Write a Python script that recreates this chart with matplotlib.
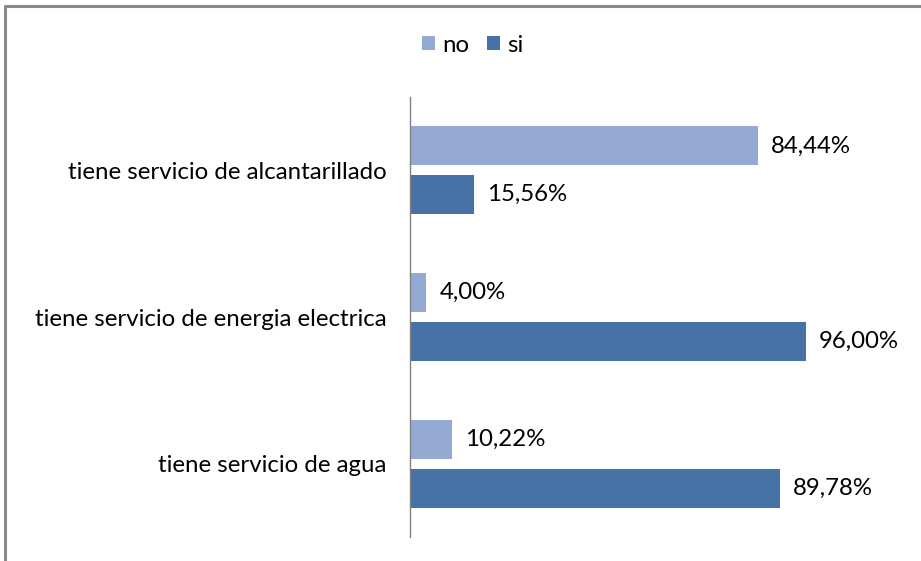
import matplotlib
matplotlib.use("Agg")
import matplotlib.pyplot as plt
from matplotlib.lines import Line2D
import numpy as np

categories = ["tiene servicio de alcantarillado", "tiene servicio de energia electrica", "tiene servicio de agua"]
no_vals = [84.44, 4.00, 10.22]
si_vals = [15.56, 96.00, 89.78]
series_names = ["no", "si"]
colors = ["#95AAD2", "#4672A8"]

plt.rcParams['font.family'] = ['Lato', 'DejaVu Sans']

W, H = 921, 561
fig = plt.figure(figsize=(W / 100, H / 100), dpi=100)
ax = fig.add_axes([410 / W, 1 - 537 / H, (822 - 410) / W, (537 - 97) / H])

n = len(categories)
pos = np.arange(n)[::-1]  # top to bottom
bh = 0.266
off = 0.166
b1 = ax.barh(pos + off, no_vals, height=bh, color=colors[0], label=series_names[0])
b2 = ax.barh(pos - off, si_vals, height=bh, color=colors[1], label=series_names[1])

fs = 17.3
for bars, vals in ((b1, no_vals), (b2, si_vals)):
    for rect, v in zip(bars, vals):
        ax.annotate(f"{v:.2f}%".replace(".", ","),
                    xy=(rect.get_width(), rect.get_y() + rect.get_height() / 2),
                    xytext=(9.5, 0), textcoords="offset points",
                    ha="left", va="center", fontsize=fs, color="black")

ax.set_xlim(0, 100)
ax.set_ylim(-0.5, n - 0.5)
ax.set_yticks(pos)
ax.set_yticklabels(categories, fontsize=fs)
ax.tick_params(axis="y", length=0, pad=17)
ax.set_xticks([])
for s in ["top", "right", "bottom"]:
    ax.spines[s].set_visible(False)
ax.spines["left"].set_color("#808080")
ax.spines["left"].set_linewidth(1.0)

fig.legend(handles=[b1, b2], labels=series_names, loc="center",
           bbox_to_anchor=(473 / W, 1 - 45 / H), ncol=2, frameon=False,
           fontsize=fs, handlelength=0.52, handleheight=0.55, handletextpad=0.32,
           columnspacing=0.75)

# outer frame (left and top edges visible)
fig.add_artist(Line2D([5 / W, 5 / W, 1.0], [0.0, 1 - 6 / H, 1 - 6 / H],
                      transform=fig.transFigure, color="#8a8a8a", linewidth=2.2))

fig.savefig("out.png", dpi=100)
